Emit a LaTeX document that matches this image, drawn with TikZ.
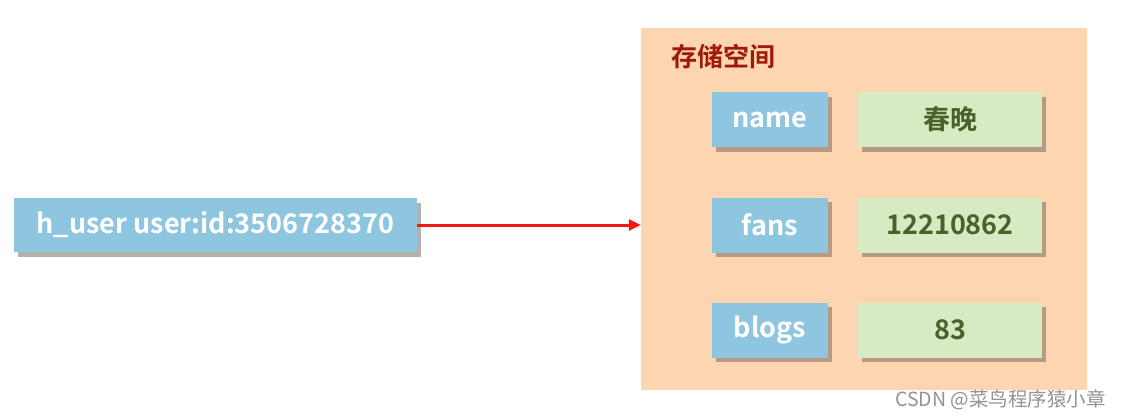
\documentclass[tikz,border=0pt]{standalone}
\usepackage{fontspec}
\setmainfont{Noto Sans CJK SC}
\newfontfamily\cjkbold{Noto Sans CJK SC Bold}
\usetikzlibrary{shadows,arrows.meta}
\definecolor{keyblue}{HTML}{8DC6DE}
\definecolor{valgreen}{HTML}{D6EBC4}
\definecolor{storeorange}{HTML}{FDD5B0}
\definecolor{valtext}{HTML}{4A6129}
\definecolor{titlered}{HTML}{A01A0A}
\definecolor{arrowred}{HTML}{F21A12}
\definecolor{shadowcol}{HTML}{6E625A}
\tikzset{
  boxshadow/.style={drop shadow={shadow xshift=3.5pt,shadow yshift=-4.5pt,fill=shadowcol,opacity=0.5}},
  keybox/.style={boxshadow,fill=keyblue,text=white,font=\cjkbold\fontsize{27}{30}\selectfont,inner sep=0pt,minimum width=116pt,minimum height=55pt},
  valbox/.style={boxshadow,fill=valgreen,text=valtext,font=\cjkbold\fontsize{27}{30}\selectfont,inner sep=0pt,minimum width=184pt,minimum height=55pt},
}
\begin{document}
\begin{tikzpicture}[x=1pt,y=-1pt]
\useasboundingbox (0,0) rectangle (1121,418);
\fill[white] (0,0) rectangle (1121,418);
\node[fill=storeorange,minimum width=446pt,minimum height=362pt,inner sep=0pt] (store) at (864,209) {};
\node[text=titlered,font=\cjkbold\fontsize{26}{30}\selectfont,anchor=west,inner sep=0pt] (title) at (671,57) {存储空间};
\node[keybox,minimum width=403pt,minimum height=54pt] (hkey) at (215.5,225) {h\_user user:id:3506728370};
\node[keybox] (k1) at (770,119.5) {name};
\node[valbox] (v1) at (950,119.5) {春晚};
\node[keybox] (k2) at (770,225) {fans};
\node[valbox] (v2) at (950,225) {12210862};
\node[keybox] (k3) at (770,330) {blogs};
\node[valbox] (v3) at (950,330) {83};
\coordinate (tip) at (store.west |- hkey.east);
\draw[arrowred,line width=3pt,-{Triangle[length=12pt,width=11pt]}] (hkey.east) -- (tip);
\node[text=gray!85,font=\fontsize{19.5}{22}\selectfont,anchor=east,inner sep=0pt] (wm) at (1106,400) {CSDN @菜鸟程序猿小章};
\end{tikzpicture}
\end{document}
